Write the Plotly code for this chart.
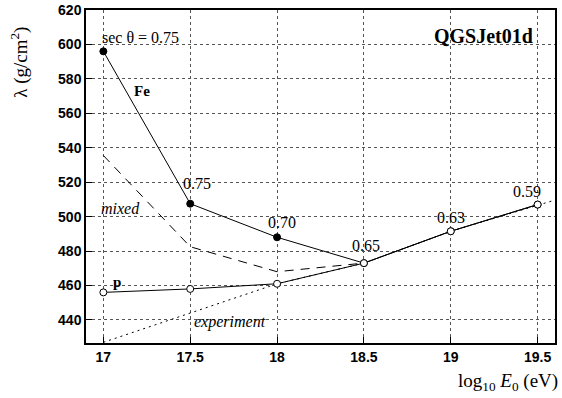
import plotly.graph_objects as go

energy = [17, 17.5, 18, 18.5, 19, 19.5]
fe_lambda = [596, 507.5, 488, 473, 491.5, 507]
p_lambda = [456, 458, 461, 473, 491.5, 507]
mixed_energy = [17, 17.5, 18, 18.5]
mixed_lambda = [535.5, 482.5, 468, 473]
exp_energy = [17, 18, 18.5, 19, 19.58]
exp_lambda = [427, 461, 473, 491.5, 509]
sec_labels = ["sec θ = 0.75", "0.75", "0.70", "0.65", "0.63", "0.59"]
sec_label_x = [17, 17.54, 18.03, 18.51, 19.0, 19.44]
sec_label_y = [604.3, 519.4, 496.7, 483.4, 499.7, 514.8]

fe_marker_fill = ["black", "black", "black", "white", "white", "white"]

SERIF = "Liberation Serif, Times New Roman, serif"
SANS = "Liberation Sans, Arial, sans-serif"

fig = go.Figure()
fig.add_trace(go.Scatter(x=exp_energy, y=exp_lambda, mode="lines",
                         line=dict(color="black", width=1, dash="2px,4px"),
                         showlegend=False, hoverinfo="skip"))
fig.add_trace(go.Scatter(x=mixed_energy, y=mixed_lambda, mode="lines",
                         line=dict(color="black", width=1, dash="9px,7px"),
                         showlegend=False))
fig.add_trace(go.Scatter(x=energy, y=p_lambda, mode="lines+markers",
                         line=dict(color="black", width=1),
                         marker=dict(size=7, color="white", line=dict(color="black", width=1)),
                         showlegend=False))
fig.add_trace(go.Scatter(x=energy, y=fe_lambda, mode="lines+markers",
                         line=dict(color="black", width=1),
                         marker=dict(size=7, color=fe_marker_fill, line=dict(color="black", width=1)),
                         showlegend=False))

for x, y, t in zip(sec_label_x, sec_label_y, sec_labels):
    first = t.startswith("sec")
    fig.add_annotation(x=x, y=y, text=t, showarrow=False, xanchor="left" if first else "center",
                       xshift=-3 if first else 0,
                       font=dict(family=SERIF, size=16, color="black"))

fig.add_annotation(x=17.224, y=573, text="<b>Fe</b>", showarrow=False,
                   font=dict(family=SERIF, size=15, color="black"))
fig.add_annotation(x=17.08, y=462, text="<b>p</b>", showarrow=False,
                   font=dict(family=SERIF, size=15, color="black"))
fig.add_annotation(x=17.096, y=505, text="<i>mixed</i>", showarrow=False,
                   font=dict(family=SERIF, size=16, color="black"))
fig.add_annotation(x=17.727, y=438.6, text="<i>experiment</i>", showarrow=False,
                   font=dict(family=SERIF, size=16, color="black"))
fig.add_annotation(x=19.487, y=605, text="<b>QGSJet01d</b>", showarrow=False, xanchor="right",
                   font=dict(family=SERIF, size=20, color="black"))

fig.add_annotation(xref="paper", yref="paper", x=1.01, y=-0.117, xanchor="right", yanchor="middle",
                   text="log<sub>10</sub> <i>E</i><sub>0</sub> (eV)", showarrow=False,
                   font=dict(family=SERIF, size=19, color="black"))
fig.add_annotation(xref="paper", yref="paper", x=-0.141, y=0.844, xanchor="center", yanchor="middle",
                   textangle=-90, text="λ (g/cm<sup>2</sup>)", showarrow=False,
                   font=dict(family=SERIF, size=19, color="black"))

fig.update_xaxes(range=[16.9, 19.6], tickvals=[17, 17.5, 18, 18.5, 19, 19.5],
                 ticktext=["17", "17.5", "18", "18.5", "19", "19.5"],
                 showgrid=True, gridcolor="#555", griddash="dot", gridwidth=1,
                 showline=True, linecolor="black", linewidth=1.5, mirror=True,
                 ticks="inside", ticklen=6, tickcolor="black",
                 tickfont=dict(family=SANS, size=14, color="black", weight="bold"),
                 zeroline=False, automargin=False)
fig.update_yaxes(range=[426.6, 620], tickvals=list(range(440, 621, 20)),
                 showgrid=True, gridcolor="#555", griddash="dot", gridwidth=1,
                 showline=True, linecolor="black", linewidth=1.5, mirror=True,
                 ticks="inside", ticklen=6, tickcolor="black",
                 tickfont=dict(family=SANS, size=14, color="black", weight="bold"),
                 zeroline=False, automargin=False)

fig.update_layout(width=562, height=398, margin=dict(l=86, r=7, t=10, b=55),
                  plot_bgcolor="white", paper_bgcolor="white")

fig.write_html("out.html", config={"displayModeBar": False},
               post_script="document.body.style.margin='0';")
